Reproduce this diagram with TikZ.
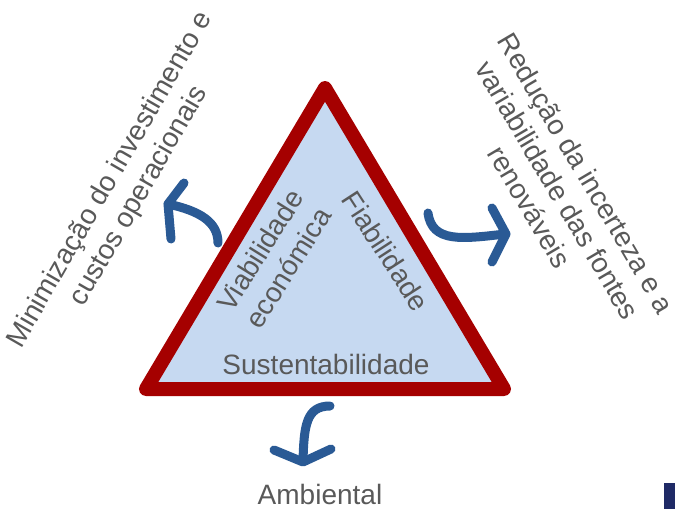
\documentclass[tikz,border=0pt]{standalone}
\usepackage{fontspec}
\setmainfont{Liberation Sans}
\definecolor{tri}{HTML}{A50000}
\definecolor{trifill}{HTML}{C6D9F1}
\definecolor{txt}{HTML}{595959}
\definecolor{arr}{HTML}{2A5A95}
\definecolor{navy}{HTML}{1F2A66}
\begin{document}
\begin{tikzpicture}[x=1pt,y=-1pt,
  lbl/.style={text=txt,font=\fontsize{28}{33}\selectfont,align=center,inner sep=0pt},
  curvearrow/.style={draw=arr,line width=9,line cap=round,line join=round}]
\useasboundingbox (0,0) rectangle (675,509);
% triangle
\coordinate (A) at (325,88);
\coordinate (B) at (146,389);
\coordinate (C) at (504,389);
\draw[tri,fill=trifill,line width=14,line join=round] (A) -- (B) -- (C) -- cycle;
% labels inside
\node[lbl] (sus) at (326,364) {Sustentabilidade};
\node[lbl,rotate=58] (via) at (274,259) {Viabilidade\\económica};
\node[lbl,rotate=-57] (fia) at (386,251) {Fiabilidade};
% outside labels
\node[lbl,rotate=60] (min) at (125,188) {Minimização do investimento e\\custos operacionais};
\node[lbl,rotate=-59.5] (red) at (558,190) {Redução da incerteza e a\\variabilidade das fontes\\renováveis};
\node[lbl] (amb) at (320,494) {Ambiental};
% curved arrows
\draw[curvearrow] (218,243) .. controls (218,222) and (200,211) .. (168,204);
\draw[curvearrow] (184,183) -- (168,204) -- (171,239);
\draw[curvearrow] (428,213) .. controls (432,243) and (462,239) .. (505,234);
\draw[curvearrow] (492,208) -- (506,234) -- (492,262);
\draw[curvearrow] (330,406) .. controls (306,406) and (304,426) .. (303,461);
\draw[curvearrow] (274,450) -- (303,462) -- (331,449);
% corner mark
\fill[navy] (664,483) rectangle (675,509);
\end{tikzpicture}
\end{document}
